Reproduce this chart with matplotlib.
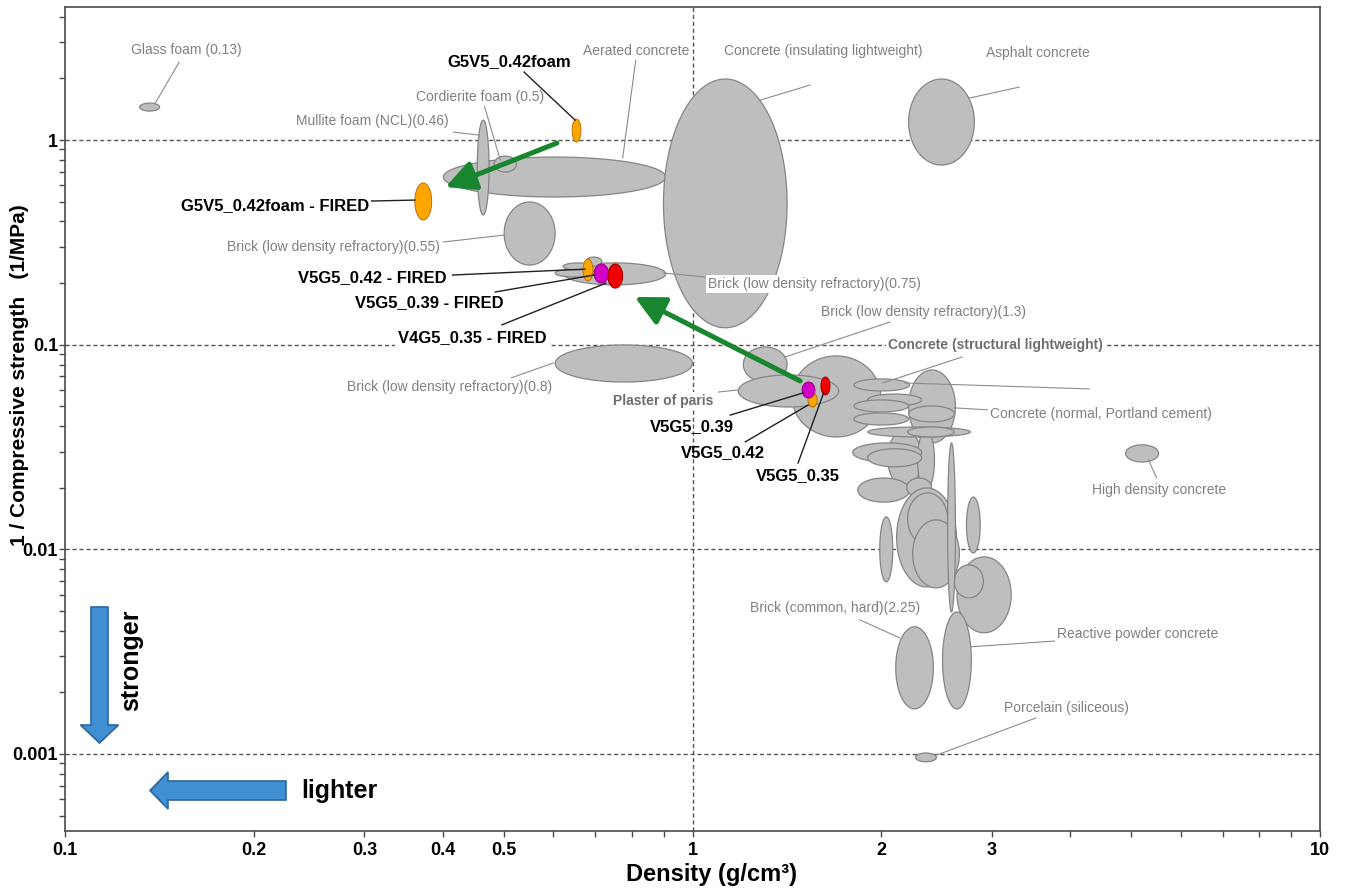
import numpy as np
import matplotlib
matplotlib.use("Agg")
import matplotlib.pyplot as plt
from matplotlib.patches import FancyArrow
from matplotlib.ticker import FixedLocator, NullFormatter, LogLocator

plt.rcParams['font.family'] = ['Liberation Sans', 'DejaVu Sans']

# ---------------------------------------------------------------------------
# Reference materials: density range (g/cm3) and 1/compressive strength (1/MPa)
# ---------------------------------------------------------------------------
ref_names = [
    "Glass foam (0.13)", "Aerated concrete", "Mullite foam (NCL)(0.46)",
    "Cordierite foam (0.5)", "Brick (low density refractory)(0.55)",
    "Brick (low density refractory)(0.75)", "", "", "",
    "Brick (low density refractory)(0.8)", "Concrete (insulating lightweight)",
    "Asphalt concrete", "Brick (low density refractory)(1.3)",
    "Concrete (structural lightweight)", "Plaster of paris",
    "", "", "", "", "", "", "", "", "", "", "", "", "", "", "",
    "", "", "", "", "", "", "",
    "High density concrete", "Brick (common, hard)(2.25)",
    "Reactive powder concrete", "Porcelain (siliceous)",
]
ref_rho_lo = [0.1315, 0.401, 0.454, 0.483, 0.501, 0.624, 0.604, 0.622, 0.676,
              0.604, 0.899, 2.21, 1.205, 1.44, 1.183,
              2.21, 1.808, 1.902, 1.808, 2.21, 1.808, 2.047, 2.284, 1.902, 2.202,
              1.80, 1.902, 1.834, 2.195, 2.115,
              2.202, 2.243, 1.988, 2.733, 2.64, 2.614, 2.55,
              4.9, 2.108, 2.503, 2.267]
ref_rho_hi = [0.1415, 0.906, 0.474, 0.524, 0.604, 0.906, 0.702, 0.694, 0.717,
              1.0, 1.415, 2.813, 1.415, 1.995, 1.71,
              2.624, 2.218, 2.318, 2.21, 2.614, 2.21, 2.318, 2.43, 2.772, 2.614,
              2.318, 2.318, 2.218, 2.404, 2.634,
              2.55, 2.663, 2.085, 2.874, 3.22, 2.908, 2.624,
              5.53, 2.42, 2.782, 2.447]
ref_inv_lo = [1.386, 0.527, 0.430, 0.698, 0.245, 0.196, 0.214, 0.232, 0.242,
              0.0657, 0.121, 0.755, 0.0657, 0.0354, 0.0496,
              0.0331, 0.0594, 0.0502, 0.0469, 0.0419, 0.0405, 0.0202, 0.0195, 0.0354, 0.0354,
              0.0267, 0.0253, 0.0170, 0.0180, 0.00655,
              0.01051, 0.00648, 0.00693, 0.0096, 0.00391, 0.00579, 0.00494,
              0.0267, 0.00166, 0.00166, 0.000915]
ref_inv_hi = [1.516, 0.826, 1.252, 0.835, 0.498, 0.251, 0.234, 0.251, 0.268,
              0.0997, 1.987, 1.987, 0.0975, 0.0881, 0.0711,
              0.0752, 0.068, 0.0574, 0.0537, 0.0502, 0.0464, 0.0383, 0.0383, 0.0396, 0.0396,
              0.0331, 0.0310, 0.0223, 0.0223, 0.01995,
              0.01886, 0.01392, 0.0144, 0.018, 0.00918, 0.00839, 0.0331,
              0.0324, 0.00418, 0.00494, 0.00101]

# ---------------------------------------------------------------------------
# Tested samples
# ---------------------------------------------------------------------------
smp_names = ["G5V5_0.42foam", "G5V5_0.42foam - FIRED", "V5G5_0.42 - FIRED",
             "V5G5_0.39 - FIRED", "V4G5_0.35 - FIRED",
             "V5G5_0.42", "V5G5_0.39", "V5G5_0.35"]
smp_rho_lo = [0.643, 0.361, 0.669, 0.697, 0.733, 1.528, 1.495, 1.602]
smp_rho_hi = [0.664, 0.384, 0.694, 0.735, 0.774, 1.580, 1.567, 1.656]
smp_inv_lo = [0.978, 0.407, 0.205, 0.200, 0.189, 0.0496, 0.0549, 0.0568]
smp_inv_hi = [1.266, 0.617, 0.262, 0.248, 0.248, 0.0581, 0.0657, 0.0695]
smp_kind = ["0.42", "0.42", "0.42", "0.39", "0.35", "0.42", "0.39", "0.35"]
kind_face = {"0.42": "#FFA500", "0.39": "#D400C8", "0.35": "#F00000"}
kind_edge = {"0.42": "#B87400", "0.39": "#8A0082", "0.35": "#9A0000"}

# Firing shift: (start density, start 1/strength) -> (end density, end 1/strength)
shift_from = [(0.608, 0.967), (1.484, 0.0665)]
shift_to = [(0.404, 0.589), (0.809, 0.171)]

# Label placement: text position and leader line (start -> end), data units
gray_labels = [
    ("Glass foam (0.13)", (0.156, 2.75), (0.152, 2.40), (0.139, 1.50), False),
    ("Mullite foam (NCL)(0.46)", (0.309, 1.238), (0.416, 1.094), (0.456, 1.058), False),
    ("Cordierite foam (0.5)", (0.458, 1.622), (0.466, 1.466), (0.494, 0.798), False),
    ("Aerated concrete", (0.812, 2.72), (0.812, 2.459), (0.774, 0.817), False),
    ("Concrete (insulating lightweight)", (1.614, 2.72), (1.539, 1.857), (1.282, 1.567), False),
    ("Asphalt concrete", (3.555, 2.661), (3.316, 1.815), (2.762, 1.604), False),
    ("Brick (low density refractory)(0.55)", (0.268, 0.300), (0.401, 0.3175), (0.501, 0.3435), False),
    ("Brick (low density refractory)(0.75)", (1.567, 0.198), (1.05, 0.214), (0.90, 0.224), False),
    ("Brick (low density refractory)(1.3)", (2.335, 0.1445), (2.063, 0.129), (1.405, 0.0871), False),
    ("Concrete (structural lightweight)", (3.038, 0.0997), (2.692, 0.0871), (2.01, 0.065), True),
    ("Plaster of paris", (0.899, 0.0531), (1.10, 0.0587), (1.183, 0.0601), True),
    ("Concrete (normal, Portland cement)", (4.476, 0.0459), (2.97, 0.048), (2.614, 0.0491), False),
    ("High density concrete", (5.55, 0.0195), (5.49, 0.0223), (5.33, 0.0273), False),
    ("Brick (common, hard)(2.25)", (1.686, 0.00517), (1.848, 0.00452), (2.139, 0.00369), False),
    ("Reactive powder concrete", (5.123, 0.00386), (3.824, 0.00357), (2.782, 0.00334), False),
    ("Porcelain (siliceous)", (3.938, 0.00168), (3.528, 0.0015), (2.456, 0.00099), False),
    ("Brick (low density refractory)(0.8)", (0.41, 0.0621), (0.488, 0.065), (0.60, 0.0814), False),
]
extra_leader = [((4.284, 0.0608), (2.178, 0.065))]

black_labels = [
    ("G5V5_0.42foam", (0.511, 2.432), (0.539, 2.149), (0.650, 1.252), False),
    ("G5V5_0.42foam - FIRED", (0.216, 0.476), (0.308, 0.5036), (0.361, 0.509), False),
    ("V5G5_0.42 - FIRED", (0.309, 0.214), (0.4145, 0.219), (0.674, 0.234), False),
    ("V5G5_0.39 - FIRED", (0.380, 0.160), (0.485, 0.181), (0.697, 0.219), False),
    ("V4G5_0.35 - FIRED", (0.446, 0.1078), (0.497, 0.125), (0.728, 0.200), True),
    ("V5G5_0.39", (0.996, 0.0396), (1.149, 0.0453), (1.50, 0.0581), False),
    ("V5G5_0.42", (1.116, 0.0296), (1.214, 0.0335), (1.528, 0.0507), False),
    ("V5G5_0.35", (1.473, 0.0228), (1.473, 0.0264), (1.62, 0.0587), False),
]

x_major = [0.1, 0.2, 0.3, 0.4, 0.5, 1, 2, 3, 10]
x_major_labels = ["0.1", "0.2", "0.3", "0.4", "0.5", "1", "2", "3", "10"]
x_minor = [0.6, 0.7, 0.8, 0.9, 4, 5, 6, 7, 8, 9]
y_major = [0.001, 0.01, 0.1, 1]
y_major_labels = ["0.001", "0.01", "0.1", "1"]


def log_ellipse(ax, xlo, xhi, ylo, yhi, face, edge, lw, z):
    """Ellipse spanning the given ranges, drawn as a true ellipse in log-log space."""
    t = np.linspace(0, 2 * np.pi, 240)
    lx0, lx1 = np.log10(xlo), np.log10(xhi)
    ly0, ly1 = np.log10(ylo), np.log10(yhi)
    cx, rx = (lx0 + lx1) / 2, (lx1 - lx0) / 2
    cy, ry = (ly0 + ly1) / 2, (ly1 - ly0) / 2
    ax.fill(10 ** (cx + rx * np.cos(t)), 10 ** (cy + ry * np.sin(t)),
            facecolor=face, edgecolor=edge, linewidth=lw, zorder=z)


fig = plt.figure(figsize=(13.49, 8.90), dpi=100)
fig.patch.set_facecolor("white")
ax = fig.add_axes([65 / 1349, 1 - 831 / 890, 1255 / 1349, 824 / 890])
ax.set_xscale("log")
ax.set_yscale("log")
ax.set_xlim(0.1, 10)
ax.set_ylim(4.2e-4, 4.47)

# dashed guide lines at the decades
grid_kw = dict(color="#555555", linewidth=1.0, linestyle=(0, (3, 2)), zorder=1)
for yv in y_major:
    ax.axhline(yv, **grid_kw)
ax.axvline(1.0, **grid_kw)

# reference material bubbles
for i in range(len(ref_names)):
    log_ellipse(ax, ref_rho_lo[i], ref_rho_hi[i], ref_inv_lo[i], ref_inv_hi[i],
                "#BEBEBE", "#858585", 0.9, 2 + i * 0.01)

# sample bubbles
for i in range(len(smp_names)):
    k = smp_kind[i]
    log_ellipse(ax, smp_rho_lo[i], smp_rho_hi[i], smp_inv_lo[i], smp_inv_hi[i],
                kind_face[k], kind_edge[k], 0.7, 6 + i * 0.01)

# leader lines and labels
for text, tpos, l0, l1, bold in gray_labels:
    ax.plot([l0[0], l1[0]], [l0[1], l1[1]], color="#8C8C8C", linewidth=0.8, zorder=4)
    ax.text(tpos[0], tpos[1], text, ha="center", va="center", fontsize=10,
            color="#6E6E6E" if bold else "#808080",
            fontweight="bold" if bold else "normal", zorder=5,
            bbox=dict(facecolor="white", edgecolor="none", pad=1.5))
for l0, l1 in extra_leader:
    ax.plot([l0[0], l1[0]], [l0[1], l1[1]], color="#8C8C8C", linewidth=0.8, zorder=4)

for text, tpos, l0, l1, boxed in black_labels:
    ax.plot([l0[0], l1[0]], [l0[1], l1[1]], color="#202020", linewidth=1.0, zorder=7)
    kw = {}
    if boxed:
        kw["bbox"] = dict(facecolor="white", edgecolor="none", pad=2)
    ax.text(tpos[0], tpos[1], text, ha="center", va="center", fontsize=12,
            fontweight="bold", color="black", zorder=8, **kw)

# firing shift arrows
for p0, p1 in zip(shift_from, shift_to):
    ax.annotate("", xy=p1, xytext=p0, zorder=9,
                arrowprops=dict(arrowstyle="-|>,head_length=0.9,head_width=0.45",
                                mutation_scale=20, color="#17862E", linewidth=3.6,
                                shrinkA=0, shrinkB=0))

# axes, ticks
for sp in ax.spines.values():
    sp.set_color("#4A4A4A")
    sp.set_linewidth(1.2)
ax.xaxis.set_major_locator(FixedLocator(x_major))
ax.xaxis.set_minor_locator(FixedLocator(x_minor))
ax.set_xticklabels(x_major_labels)
ax.xaxis.set_minor_formatter(NullFormatter())
ax.yaxis.set_major_locator(FixedLocator(y_major))
ax.set_yticklabels(y_major_labels)
ax.yaxis.set_minor_locator(LogLocator(base=10, subs=np.arange(2, 10)))
ax.yaxis.set_minor_formatter(NullFormatter())
ax.tick_params(axis="both", which="both", direction="out", length=4, width=1.0,
               color="#4A4A4A")
ax.tick_params(axis="x", which="major", pad=4)
ax.tick_params(axis="y", which="major", pad=1)
for lab in ax.get_xticklabels() + ax.get_yticklabels():
    lab.set_fontweight("bold")
    lab.set_fontsize(13)

ax.set_xlabel("Density (g/cm³)", fontsize=17, fontweight="bold")
ax.xaxis.set_label_coords(0.5155, -0.039)
ax.set_ylabel("1 / Compressive strength   (1/MPa)", fontsize=15, fontweight="bold")
ax.yaxis.set_label_coords(-0.029, 0.553)

# direction hints
blue_face, blue_edge = "#3F8FD2", "#2A67A0"
fig.patches.append(FancyArrow(0.995, 2.83, 0, -1.36, width=0.17, head_width=0.38,
                              head_length=0.18, length_includes_head=True,
                              facecolor=blue_face, edgecolor=blue_edge, linewidth=1.2,
                              transform=fig.dpi_scale_trans, figure=fig))
fig.patches.append(FancyArrow(2.86, 0.995, -1.36, 0, width=0.19, head_width=0.37,
                              head_length=0.18, length_includes_head=True,
                              facecolor=blue_face, edgecolor=blue_edge, linewidth=1.2,
                              transform=fig.dpi_scale_trans, figure=fig))
fig.text(131 / 1349, 1 - 660 / 890, "stronger", rotation=90, ha="center", va="center",
         fontsize=18, fontweight="bold")
fig.text(339 / 1349, 1 - 791 / 890, "lighter", ha="center", va="center",
         fontsize=18, fontweight="bold")

fig.savefig("out.png", dpi=100, facecolor="white")
